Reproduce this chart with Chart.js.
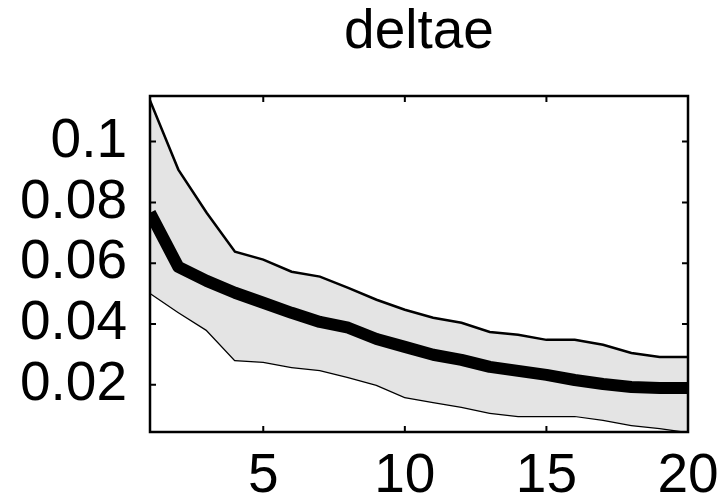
<!DOCTYPE html>
<html>
<head>
<meta charset="utf-8">
<script src="https://cdn.jsdelivr.net/npm/chart.js@4"></script>
<style>
  body { margin: 0; background: #fff; }
  #wrap { width: 720px; height: 502px; position: relative; }
</style>
</head>
<body>
<div id="wrap"><canvas id="deltaeChart"></canvas></div>
<script>
var steps = [1, 2, 3, 4, 5, 6, 7, 8, 9, 10, 11, 12, 13, 14, 15, 16, 17, 18, 19, 20];

var median = [0.0766, 0.0588, 0.0542, 0.0503, 0.0470, 0.0437, 0.0407, 0.0388, 0.0351, 0.0325,
              0.0299, 0.0282, 0.0259, 0.0246, 0.0233, 0.0216, 0.0203, 0.0193, 0.0190, 0.0190];

var upper = [0.1135, 0.0908, 0.0766, 0.0638, 0.0612, 0.0572, 0.0556, 0.0519, 0.0480, 0.0447,
             0.0421, 0.0404, 0.0374, 0.0365, 0.0348, 0.0348, 0.0332, 0.0305, 0.0292, 0.0292];

var lower = [0.0503, 0.0440, 0.0381, 0.0282, 0.0276, 0.0259, 0.0249, 0.0226, 0.0200, 0.0160,
             0.0144, 0.0128, 0.0108, 0.0098, 0.0098, 0.0098, 0.0085, 0.0068, 0.0058, 0.0045];

var xTicks = [5, 10, 15, 20];
var yTicks = [0.02, 0.04, 0.06, 0.08, 0.1];

function points(values) {
    return values.map(function (v, i) { return { x: steps[i], y: v }; });
}

Chart.defaults.font.family = "'Liberation Sans', Arial, sans-serif";
Chart.defaults.color = "#000";

// axes box with inward ticks on all four sides
var boxPlugin = {
    id: "box",
    afterDraw: function (chart) {
        var ctx = chart.ctx;
        var a = chart.chartArea;
        var xs = chart.scales.x;
        var ys = chart.scales.y;
        var len = 6;
        ctx.save();
        ctx.strokeStyle = "#000";
        ctx.lineWidth = 2;
        ctx.beginPath();
        xTicks.forEach(function (t) {
            var px = xs.getPixelForValue(t);
            ctx.moveTo(px, a.top); ctx.lineTo(px, a.top + len);
            ctx.moveTo(px, a.bottom); ctx.lineTo(px, a.bottom - len);
        });
        yTicks.forEach(function (t) {
            var py = ys.getPixelForValue(t);
            ctx.moveTo(a.left, py); ctx.lineTo(a.left + len, py);
            ctx.moveTo(a.right, py); ctx.lineTo(a.right - len, py);
        });
        ctx.stroke();
        ctx.lineWidth = 2.5;
        ctx.strokeRect(a.left, a.top, a.right - a.left, a.bottom - a.top);
        ctx.restore();
    }
};

new Chart(document.getElementById("deltaeChart"), {
    type: "line",
    data: {
        datasets: [
            {
                label: "lower",
                data: points(lower),
                borderColor: "#000",
                borderWidth: 2.5,
                pointRadius: 0,
                fill: false,
                order: 2
            },
            {
                label: "upper",
                data: points(upper),
                borderColor: "#000",
                borderWidth: 2.5,
                pointRadius: 0,
                fill: "-1",
                backgroundColor: "#e4e4e4",
                order: 1
            },
            {
                label: "median",
                data: points(median),
                borderColor: "#000",
                borderWidth: 12,
                borderJoinStyle: "round",
                pointRadius: 0,
                fill: false,
                order: 0
            }
        ]
    },
    options: {
        responsive: true,
        maintainAspectRatio: false,
        animation: false,
        layout: { padding: { right: 32 } },
        plugins: {
            legend: { display: false },
            tooltip: { enabled: false },
            title: {
                display: true,
                text: "deltae",
                fullSize: false,
                font: { size: 55, weight: "normal" },
                color: "#000",
                padding: { top: 0, bottom: 30 }
            }
        },
        scales: {
            x: {
                type: "linear",
                min: 1,
                max: 20,
                grid: { display: false, drawTicks: false },
                border: { display: false },
                afterBuildTicks: function (scale) {
                    scale.ticks = xTicks.map(function (v) { return { value: v }; });
                },
                afterFit: function (scale) {
                    scale.height = 70;
                    scale.paddingLeft = 0;
                    scale.paddingRight = 0;
                },
                ticks: {
                    font: { size: 55 },
                    color: "#000",
                    padding: 12,
                    maxRotation: 0,
                    callback: function (v) { return String(v); }
                }
            },
            y: {
                min: 0.0045,
                max: 0.115,
                grid: { display: false, drawTicks: false },
                border: { display: false },
                afterBuildTicks: function (scale) {
                    scale.ticks = yTicks.map(function (v) { return { value: v }; });
                },
                afterFit: function (scale) {
                    scale.width = 150;
                    scale.paddingTop = 0;
                    scale.paddingBottom = 0;
                },
                ticks: {
                    font: { size: 55 },
                    color: "#000",
                    padding: 23,
                    callback: function (v) { return String(v); }
                }
            }
        }
    },
    plugins: [boxPlugin]
});
</script>
</body>
</html>
